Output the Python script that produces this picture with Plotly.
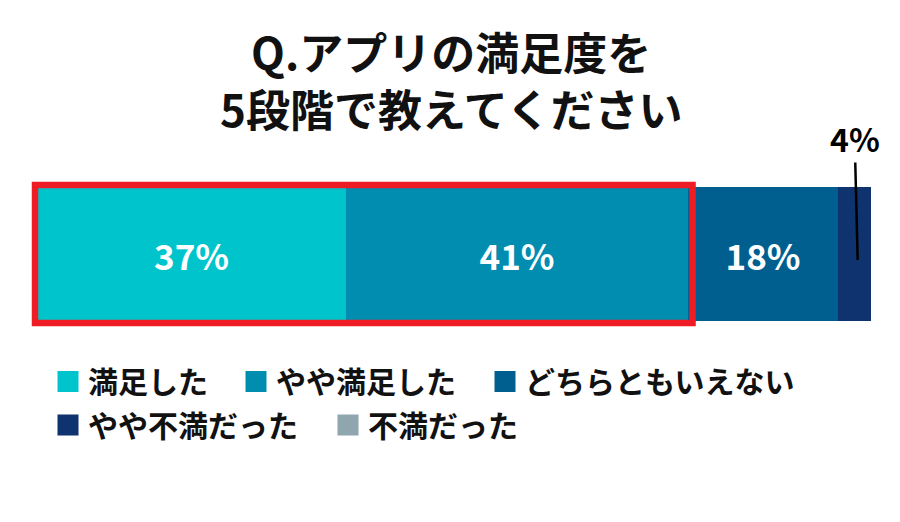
import plotly.graph_objects as go

categories = ["満足した", "やや満足した", "どちらともいえない", "やや不満だった", "不満だった"]
values = [37, 41, 18, 4, 0]
labels = ["37%", "41%", "18%", "", ""]
colors = ["#00C4CC", "#008DB0", "#005F8F", "#0F336E", "#8FA6AE"]
title_lines = ["Q.アプリの満足度を", "5段階で教えてください"]
small_label = "4%"

FONT = "Noto Sans CJK JP"
W, H = 892, 514          # page body has an 8px margin in the browser
ML, MR, MT, MB = 20, 20, 170, 192
PW, PH = W - ML - MR, H - MT - MB

fig = go.Figure()
legend_ids = ["legend", "legend2", "legend3", "legend4", "legend5"]
for cat, v, lab, c, lg in zip(categories, values, labels, colors, legend_ids):
    fig.add_trace(go.Bar(
        y=["q"], x=[v], orientation="h", name=cat, width=1,
        marker=dict(color=c, line=dict(width=0)),
        text=[lab], textposition="inside", insidetextanchor="middle",
        textfont=dict(family=FONT, size=35, color="white", weight="bold"),
        showlegend=False, hoverinfo="skip",
    ))
    fig.add_trace(go.Scatter(
        x=[None], y=[None], mode="markers", name=cat, legend=lg,
        marker=dict(symbol="square", size=16, color=c, line=dict(color=c, width=5)),
        showlegend=True,
    ))

# red highlight around the first two segments
fig.add_shape(type="rect", xref="x", yref="y", layer="above",
              x0=-0.24, x1=values[0] + values[1] + 0.6, y0=-0.515, y1=0.515,
              line=dict(color="#EE1C25", width=6.5), fillcolor="rgba(0,0,0,0)")

# label for the small segment
fig.add_annotation(x=values[0] + values[1] + values[2] + values[3] / 2 + 0.4, y=-0.045,
                   xref="x", yref="y", text=small_label, showarrow=True,
                   arrowhead=0, arrowwidth=2.5, arrowcolor="black",
                   ax=-3, ay=-122,
                   font=dict(family=FONT, size=32, color="black", weight="bold"))

# two-line title
title_font = dict(family=FONT, size=44, color="#111111", weight="bold")
for line, ly in zip(title_lines, [43, 100]):
    fig.add_annotation(text=line, xref="paper", yref="paper",
                       x=(443 - ML) / PW, xanchor="center",
                       y=(MT + PH - ly) / PH, yanchor="middle",
                       showarrow=False, font=title_font)

legend_font = dict(family=FONT, size=30, color="#111111", weight="bold")
legend_pos = [(40, 373.5), (228, 373.5), (477, 373.5), (40, 417), (320, 417)]
legend_layouts = {}
for lg, (lx, ly) in zip(legend_ids, legend_pos):
    legend_layouts[lg] = dict(orientation="h", xref="container", yref="container",
                              x=lx / W, xanchor="left", y=1 - ly / H, yanchor="middle",
                              font=legend_font, itemwidth=30, bgcolor="rgba(0,0,0,0)")

fig.update_layout(
    width=W, height=H,
    margin=dict(l=ML, r=MR, t=MT, b=MB, autoexpand=False),
    paper_bgcolor="white", plot_bgcolor="white",
    barmode="stack", bargap=0,
    xaxis=dict(range=[-1.079, 101.079], visible=False, fixedrange=True),
    yaxis=dict(range=[-0.5672, 0.5672], visible=False, fixedrange=True),
    showlegend=True,
    **legend_layouts,
)

fig.write_html("out.html")
